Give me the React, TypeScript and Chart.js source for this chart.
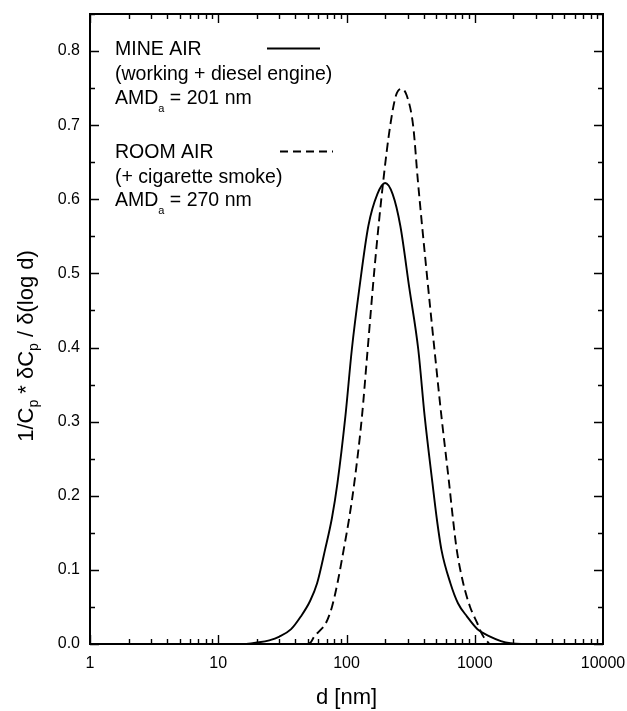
import React, { useEffect, useRef } from "react";
import { Chart, registerables } from "chart.js";

Chart.register(...registerables);

// ---- data ----
const xTickValues = [1, 10, 100, 1000, 10000];
const yTickValues = [0, 0.1, 0.2, 0.3, 0.4, 0.5, 0.6, 0.7, 0.8];

// MINE AIR (working + diesel engine), AMD_a = 201 nm
const mineAirD = [1, 10, 16, 20, 25, 30, 37, 44, 52, 59, 68, 77, 85, 98, 110, 126, 148, 174, 200, 229, 263, 309, 363, 407, 468, 505, 550, 646, 740, 871, 1050, 1318, 1600, 1900, 2300, 10000];
const mineAirV = [0, 0, 0, 0.002, 0.005, 0.01, 0.02, 0.037, 0.058, 0.082, 0.127, 0.17, 0.217, 0.307, 0.397, 0.48, 0.564, 0.607, 0.622, 0.607, 0.564, 0.48, 0.397, 0.307, 0.217, 0.17, 0.127, 0.082, 0.055, 0.037, 0.02, 0.01, 0.004, 0.001, 0, 0];

// ROOM AIR (+ cigarette smoke), AMD_a = 270 nm
const roomAirD = [50, 53, 56, 62, 69, 77, 85, 95, 105, 115, 132, 145, 166, 193, 219, 243, 268, 295, 331, 361, 417, 490, 550, 631, 675, 724, 813, 920, 1047, 1150, 1300];
const roomAirV = [0, 0.003, 0.01, 0.018, 0.028, 0.05, 0.082, 0.127, 0.17, 0.217, 0.307, 0.39, 0.51, 0.623, 0.699, 0.74, 0.749, 0.74, 0.699, 0.623, 0.51, 0.39, 0.307, 0.217, 0.17, 0.127, 0.082, 0.05, 0.028, 0.012, 0];

const mineLabel = ["MINE AIR", "(working + diesel engine)"];
const mineAmd = " = 201 nm";
const roomLabel = ["ROOM AIR", "(+ cigarette smoke)"];
const roomAmd = " = 270 nm";
const xTitle = "d [nm]";

const FONT = "'Liberation Sans', Arial, Helvetica, sans-serif";
const DASH = [9, 5];

const frameTicksPlugin = {
  id: "frameTicks",
  afterDatasetsDraw(chart: any) {
    const { ctx, chartArea, scales } = chart;
    const { left, right, top, bottom } = chartArea;
    const x = scales.x;
    const y = scales.y;
    ctx.save();
    ctx.strokeStyle = "#000";
    ctx.lineWidth = 1.4;
    ctx.beginPath();
    for (let e = 0; e < 4; e++) {
      for (let m = 1; m <= 9; m++) {
        const v = m * Math.pow(10, e);
        const px = Math.round(x.getPixelForValue(v)) + 0.5;
        const len = m === 1 ? 9 : 5;
        ctx.moveTo(px, bottom);
        ctx.lineTo(px, bottom - len);
        ctx.moveTo(px, top);
        ctx.lineTo(px, top + len);
      }
    }
    for (let i = 0; i <= 17; i++) {
      const v = i * 0.05;
      const py = Math.round(y.getPixelForValue(v)) + 0.5;
      const len = i % 2 === 0 ? 9 : 5;
      ctx.moveTo(left, py);
      ctx.lineTo(left + len, py);
      ctx.moveTo(right, py);
      ctx.lineTo(right - len, py);
    }
    ctx.stroke();
    ctx.lineWidth = 2;
    ctx.strokeRect(left, top, right - left, bottom - top);
    ctx.restore();
  },
};

function drawPieces(ctx: CanvasRenderingContext2D, pieces: [string, boolean][], x: number, y: number, main: number, sub: number, subOff: number) {
  let cx = x;
  for (const [t, isSub] of pieces) {
    ctx.font = `${isSub ? sub : main}px ${FONT}`;
    ctx.fillText(t, cx, isSub ? y + subOff : y);
    cx += ctx.measureText(t).width;
  }
}

function piecesWidth(ctx: CanvasRenderingContext2D, pieces: [string, boolean][], main: number, sub: number) {
  let w = 0;
  for (const [t, isSub] of pieces) {
    ctx.font = `${isSub ? sub : main}px ${FONT}`;
    w += ctx.measureText(t).width;
  }
  return w;
}

const annotationsPlugin = {
  id: "annotations",
  afterDraw(chart: any) {
    const { ctx } = chart;
    ctx.save();
    ctx.fillStyle = "#000";
    ctx.textAlign = "left";
    ctx.textBaseline = "alphabetic";
    const fs = 19.5;
    const tx = 115;
    // MINE AIR block
    ctx.font = `${fs}px ${FONT}`;
    ctx.fillText(mineLabel[0], tx, 55);
    ctx.fillText(mineLabel[1], tx, 79.5);
    drawPieces(ctx, [["AMD", false], ["a", true], [mineAmd, false]], tx, 104, fs, 11, 8);
    // ROOM AIR block
    ctx.font = `${fs}px ${FONT}`;
    ctx.fillText(roomLabel[0], tx, 158);
    ctx.fillText(roomLabel[1], tx, 182.5);
    drawPieces(ctx, [["AMD", false], ["a", true], [roomAmd, false]], tx, 206, fs, 11, 8);

    // legend line samples
    ctx.strokeStyle = "#000";
    ctx.lineWidth = 1.8;
    ctx.beginPath();
    ctx.moveTo(267, 48.5);
    ctx.lineTo(320, 48.5);
    ctx.stroke();
    ctx.setLineDash([8, 5]);
    ctx.beginPath();
    ctx.moveTo(280, 151.5);
    ctx.lineTo(333, 151.5);
    ctx.stroke();
    ctx.setLineDash([]);

    // Y axis title with subscripts
    const yPieces: [string, boolean][] = [
      ["1/C", false],
      ["p", true],
      [" * \u03B4C", false],
      ["p", true],
      [" / \u03B4(log d)", false],
    ];
    const w = piecesWidth(ctx, yPieces, 22, 14);
    ctx.translate(33, 346);
    ctx.rotate(-Math.PI / 2);
    drawPieces(ctx, yPieces, -w / 2, 0, 22, 14, 5);
    ctx.restore();
  },
};

export default function App() {
  const ref = useRef<HTMLCanvasElement | null>(null);

  useEffect(() => {
    if (!ref.current) return;
    Chart.defaults.font.family = FONT;
    Chart.defaults.color = "#000";
    const zeroPad = (scale: any) => {
      scale.paddingLeft = 0;
      scale.paddingRight = 0;
      scale.paddingTop = 0;
      scale.paddingBottom = 0;
    };
    const chart = new Chart(ref.current, {
      type: "line",
      data: {
        datasets: [
          {
            label: "MINE AIR",
            data: mineAirD.map((d, i) => ({ x: d, y: mineAirV[i] })),
            borderColor: "#000",
            borderWidth: 1.9,
            pointRadius: 0,
            cubicInterpolationMode: "monotone",
            fill: false,
          },
          {
            label: "ROOM AIR",
            data: roomAirD.map((d, i) => ({ x: d, y: roomAirV[i] })),
            borderColor: "#000",
            borderWidth: 1.9,
            borderDash: DASH,
            pointRadius: 0,
            cubicInterpolationMode: "monotone",
            fill: false,
          },
        ],
      },
      options: {
        responsive: false,
        animation: false,
        devicePixelRatio: 1,
        layout: { padding: { left: 0, right: 24, top: 14, bottom: 0 } },
        plugins: { legend: { display: false }, tooltip: { enabled: false } },
        scales: {
          x: {
            type: "logarithmic",
            min: 1,
            max: 10000,
            grid: { display: false, drawTicks: false },
            border: { display: false },
            afterBuildTicks: (scale: any) => {
              scale.ticks = xTickValues.map((v) => ({ value: v, major: true }));
            },
            afterFit: (scale: any) => {
              scale.height = 67;
              zeroPad(scale);
            },
            ticks: {
              autoSkip: false,
              maxRotation: 0,
              padding: 10,
              font: { size: 16 },
              color: "#000",
              callback: (v: any) => String(v),
            },
            title: {
              display: true,
              text: xTitle,
              font: { size: 22 },
              color: "#000",
              padding: { top: 0, bottom: 0 },
            },
          },
          y: {
            type: "linear",
            min: 0,
            max: 0.85,
            grid: { display: false, drawTicks: false },
            border: { display: false },
            afterBuildTicks: (scale: any) => {
              scale.ticks = yTickValues.map((v) => ({ value: v }));
            },
            afterFit: (scale: any) => {
              scale.width = 90;
              zeroPad(scale);
            },
            ticks: {
              padding: 10,
              font: { size: 16 },
              color: "#000",
              callback: (v: any) => Number(v).toFixed(1),
            },
          },
        },
      },
      plugins: [frameTicksPlugin, annotationsPlugin],
    } as any);
    return () => chart.destroy();
  }, []);

  return (
    <div style={{ position: "absolute", left: 0, top: 0, width: 627, height: 711, background: "#fff" }}>
      <canvas ref={ref} width={627} height={711} style={{ display: "block", width: 627, height: 711 }} />
    </div>
  );
}
